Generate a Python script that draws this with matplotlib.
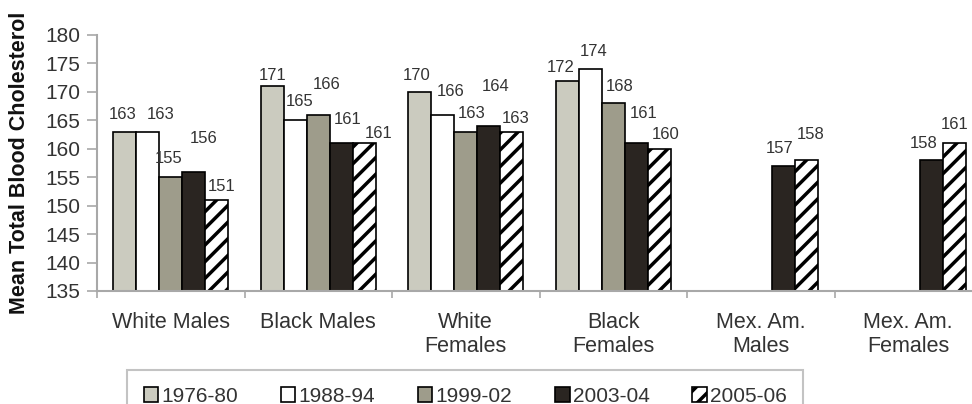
import numpy as np
import matplotlib
matplotlib.use("Agg")
import matplotlib.pyplot as plt

# data
groups = ['White Males', 'Black Males', 'White\nFemales', 'Black\nFemales',
          'Mex. Am.\nMales', 'Mex. Am.\nFemales']
periods = ['1976-80', '1988-94', '1999-02', '2003-04', '2005-06']
v_1976_80 = [163, 171, 170, 172, np.nan, np.nan]
v_1988_94 = [163, 165, 166, 174, np.nan, np.nan]
v_1999_02 = [155, 166, 163, 168, np.nan, np.nan]
v_2003_04 = [156, 161, 164, 161, 157, 158]
v_2005_06 = [151, 161, 163, 160, 158, 161]
series = [v_1976_80, v_1988_94, v_1999_02, v_2003_04, v_2005_06]

# styles
faces = ['#cbcbbf', '#ffffff', '#9e9c8b', '#2a2521', '#ffffff']
hatches = [None, None, None, None, '//']
text_col = '#333333'
axis_col = '#a8a8a8'

# label nudges (pixels) per period, per group: (dx, dy above bar top)
label_nudge = [
    [(-2, 19), (0, 12), (-3, 18), (-7, 15), None, None],
    [(13, 19), (4, 20), (8, 25), (3, 19), None, None],
    [(-2, 20), (8, 32), (6, 20), (6, 18), None, None],
    [(10, 35), (6, 25), (7, 41), (7, 31), (-4, 19), (-8, 18)],
    [(5, 15), (14, 11), (4, 15), (6, 16), (4, 27), (0, 20)],
]

plt.rcParams['font.family'] = ['Liberation Sans', 'DejaVu Sans']
plt.rcParams['hatch.linewidth'] = 2.5

fig = plt.figure(figsize=(9.72, 4.04), dpi=100)
ax = fig.add_axes([97 / 972, 1 - 291 / 404, 885 / 972, 256 / 404])

x = np.arange(len(groups))
w = 0.156
bars = []
for i, vals in enumerate(series):
    b = ax.bar(x + (i - 2) * w, vals, w, color=faces[i], edgecolor='black',
               linewidth=1.2, hatch=hatches[i], label=periods[i], zorder=2)
    bars.append(b)
    for j, v in enumerate(vals):
        if np.isnan(v):
            continue
        dx, dy = label_nudge[i][j]
        ax.annotate(f'{int(v)}', (x[j] + (i - 2) * w, v), xytext=(dx, dy - 6),
                    textcoords='offset pixels', ha='center', va='baseline',
                    fontsize=12, color=text_col)

ax.set_ylim(135, 180)
ax.set_yticks(np.arange(135, 181, 5))
ax.set_xlim(-0.5, 5.5)
ax.set_xticks(x)
ax.set_xticklabels(groups, fontsize=15.5, color=text_col, linespacing=1.2)
ax.set_xticks(np.arange(-0.5, 6, 1), minor=True)
ax.tick_params(axis='x', which='major', length=0, pad=15)
ax.tick_params(axis='x', which='minor', length=5, width=1.2, color=axis_col)
ax.tick_params(axis='y', length=7, width=1.2, color=axis_col, labelsize=15,
               labelcolor=text_col, pad=5)
for s in ['top', 'right']:
    ax.spines[s].set_visible(False)
for s in ['left', 'bottom']:
    ax.spines[s].set_color(axis_col)
    ax.spines[s].set_linewidth(1.5)

ax.set_ylabel('Mean Total Blood Cholesterol', fontsize=15.5, fontweight='bold',
              color='#111111', labelpad=11)

leg = fig.legend(handles=bars, loc='upper left', ncol=5,
                 bbox_to_anchor=(127 / 972, 1 - 370 / 404),
                 bbox_transform=fig.transFigure, fontsize=15,
                 handlelength=0.7, handleheight=0.7, handletextpad=0.15,
                 columnspacing=2.05, borderpad=0.8, borderaxespad=0,
                 fancybox=False, labelcolor=text_col)
leg.get_frame().set_edgecolor('#b5b5b5')
leg.get_frame().set_linewidth(1.5)

fig.savefig('out.png', dpi=100)
